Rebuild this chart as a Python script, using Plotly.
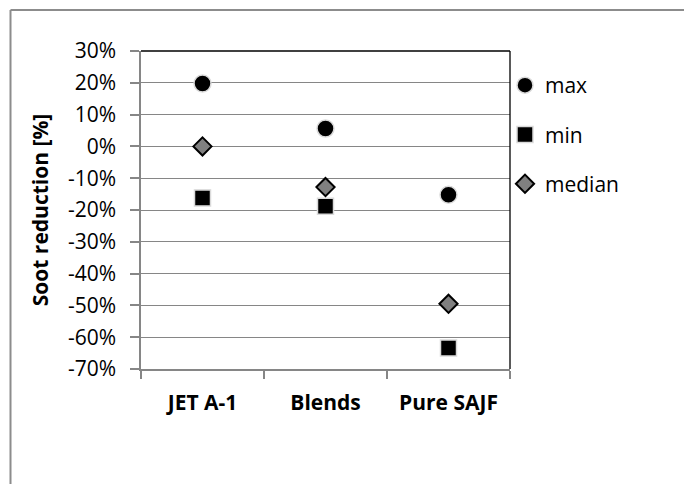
import plotly.graph_objects as go

# Soot reduction by fuel type (fractions, shown as percent)
categories = ["JET A-1", "Blends", "Pure SAJF"]
max_vals = [0.198, 0.056, -0.152]
min_vals = [-0.162, -0.188, -0.634]
median_vals = [0.0, -0.128, -0.495]
y_ticks = [0.3, 0.2, 0.1, 0.0, -0.1, -0.2, -0.3, -0.4, -0.5, -0.6, -0.7]
y_tick_text = [f"{round(v * 100)}%" for v in y_ticks]

FONT = "Open Sans"
GRID = "#868686"

fig = go.Figure()
fig.add_trace(go.Scatter(
    x=categories, y=max_vals, mode="markers", name="max", legendgroup="a",
    marker=dict(symbol="circle", size=17, color="black",
                line=dict(color="#dadada", width=1.5)),
))
fig.add_trace(go.Scatter(
    x=categories, y=min_vals, mode="markers", name="min", legendgroup="b",
    marker=dict(symbol="square", size=16, color="black",
                line=dict(color="#dadada", width=1.5)),
))
fig.add_trace(go.Scatter(
    x=categories, y=median_vals, mode="markers", name="median", legendgroup="c",
    marker=dict(symbol="diamond", size=14, color="#808080",
                line=dict(color="black", width=2)),
))

# plot area in pixels: x 141..510, y 51..369
L, R, T, B = 141, 174, 51, 115
W, H = 684 - L - R, 484 - T - B

def px(x):
    return (x - L) / W

def py(y):
    return (484 - B - y) / H

shapes = [
    # outer chart frame (left and top edges)
    dict(type="line", xref="paper", yref="paper", x0=px(10.5), x1=px(10.5),
         y0=py(490), y1=py(10), line=dict(color="#8c8c8c", width=2)),
    dict(type="line", xref="paper", yref="paper", x0=px(10.5), x1=px(700),
         y0=py(10), y1=py(10), line=dict(color="#8c8c8c", width=2)),
    # plot-area border on top and right
    dict(type="line", xref="paper", yref="paper", x0=0, x1=1, y0=1, y1=1,
         line=dict(color="black", width=1.3)),
    dict(type="line", xref="paper", yref="paper", x0=1, x1=1, y0=0, y1=1,
         line=dict(color="black", width=1.3)),
]

fig.update_layout(
    width=684, height=484,
    margin=dict(l=L, r=R, t=T, b=B),
    paper_bgcolor="white", plot_bgcolor="white",
    font=dict(family=FONT, size=21, color="black"),
    showlegend=True,
    legend=dict(x=px(505), xanchor="left", y=py(65), yanchor="top",
                font=dict(family=FONT, size=21, color="black"),
                tracegroupgap=19, bgcolor="rgba(0,0,0,0)"),
    shapes=shapes,
    xaxis=dict(
        type="category", range=[-0.5, 2.5],
        showgrid=False, showline=True, linecolor=GRID, linewidth=1.5,
        ticks="outside", tickson="boundaries", ticklen=8, tickcolor=GRID,
        tickwidth=1.5,
        tickfont=dict(family=FONT, size=21, color="black", weight="bold"),
        ticklabelstandoff=14,
    ),
    yaxis=dict(
        range=[-0.7, 0.3], tickvals=y_ticks, ticktext=y_tick_text,
        showgrid=True, gridcolor=GRID, gridwidth=1.3,
        showline=True, linecolor=GRID, linewidth=1.5,
        ticks="outside", ticklen=9, tickcolor=GRID, tickwidth=1.5,
        zeroline=False, ticklabelstandoff=10,
        tickfont=dict(family=FONT, size=21, color="black"),
        title=dict(text="Soot reduction [%]", standoff=14,
                   font=dict(family=FONT, size=21, color="black", weight="bold")),
    ),
)

fig.write_html("out.html")
